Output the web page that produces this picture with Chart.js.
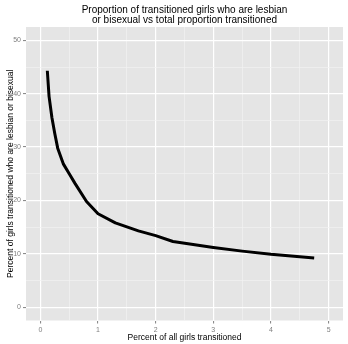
<!DOCTYPE html>
<html><head><meta charset="utf-8">
<script src="https://cdn.jsdelivr.net/npm/chart.js@4"></script>
<style>html,body{margin:0;padding:0;background:#fff}</style>
</head><body>
<canvas id="c" width="348" height="344" style="display:block;width:348px;height:344px"></canvas>
<script>
const percentAllTransitioned = [0.12, 0.15, 0.2, 0.25, 0.3, 0.4, 0.5, 0.6, 0.8, 1.0, 1.3, 1.7, 2.0, 2.3, 3.0, 3.5, 4.0, 4.75];
const percentLesbianBi = [44.3, 39.5, 35.5, 32.5, 29.8, 26.8, 25.0, 23.2, 19.8, 17.5, 15.8, 14.3, 13.4, 12.3, 11.2, 10.5, 9.9, 9.2];
const xTickValues = [0, 0.5, 1, 1.5, 2, 2.5, 3, 3.5, 4, 4.5, 5];
const yTickValues = [0, 5, 10, 15, 20, 25, 30, 35, 40, 45, 50];
const titleLines = ['Proportion of transitioned girls who are lesbian', 'or bisexual vs total proportion transitioned'];
const xTitle = 'Percent of all girls transitioned';
const yTitle = 'Percent of girls transitioned who are lesbian or bisexual';

const FONT = "'Liberation Sans', Arial, Helvetica, sans-serif";

const panelBg = {
  id: 'panelBg',
  beforeDraw(chart) {
    const {ctx, chartArea: a} = chart;
    ctx.save();
    ctx.fillStyle = '#ffffff';
    ctx.fillRect(0, 0, chart.width, chart.height);
    ctx.fillStyle = '#e5e5e5';
    ctx.fillRect(a.left, a.top, a.right - a.left, a.bottom - a.top);
    ctx.restore();
  }
};

function gridOpts(majorTest) {
  return {
    color: c => majorTest(c.tick.value) ? '#ffffff' : '#f2f2f2',
    lineWidth: c => majorTest(c.tick.value) ? 1.2 : 0.7,
    tickColor: c => majorTest(c.tick.value) ? '#7f7f7f' : 'rgba(0,0,0,0)',
    tickLength: 3,
    tickWidth: 1,
    drawTicks: true
  };
}
const xMajor = v => Number.isInteger(v);
const yMajor = v => v % 10 === 0;

new Chart(document.getElementById('c'), {
  type: 'line',
  data: {
    datasets: [{
      data: percentAllTransitioned.map((x, i) => ({x, y: percentLesbianBi[i]})),
      borderColor: '#000000',
      borderWidth: 3,
      pointRadius: 0,
      tension: 0,
      borderCapStyle: 'butt',
      borderJoinStyle: 'round',
      fill: false
    }]
  },
  options: {
    responsive: false,
    animation: false,
    devicePixelRatio: 1,
    layout: {padding: {top: 0, right: 5, left: 0, bottom: 0}},
    plugins: {
      legend: {display: false},
      tooltip: {enabled: false},
      title: {
        display: true,
        fullSize: false,
        text: titleLines,
        color: '#000000',
        font: {family: FONT, size: 10, weight: 'normal', lineHeight: 1.05},
        padding: {top: 4.5, bottom: 1.5}
      }
    },
    scales: {
      x: {
        type: 'linear',
        min: -0.25,
        max: 5.25,
        afterBuildTicks: s => { s.ticks = xTickValues.map(v => ({value: v})); },
        afterFit: s => { s.height = 23.5; },
        ticks: {
          autoSkip: false, maxRotation: 0, color: '#7f7f7f', padding: 2,
          font: {family: FONT, size: 7},
          callback: v => xMajor(v) ? String(v) : ''
        },
        grid: gridOpts(xMajor),
        border: {display: false},
        title: {display: true, text: xTitle, color: '#000000', font: {family: FONT, size: 8.5}, padding: {top: 0, bottom: 1.5}}
      },
      y: {
        type: 'linear',
        min: -2.5,
        max: 52.5,
        afterBuildTicks: s => { s.ticks = yTickValues.map(v => ({value: v})); },
        afterFit: s => { s.width = 26; },
        ticks: {
          autoSkip: false, color: '#7f7f7f', padding: 2,
          font: {family: FONT, size: 7},
          callback: v => yMajor(v) ? String(v) : ''
        },
        grid: gridOpts(yMajor),
        border: {display: false},
        title: {display: true, text: yTitle, color: '#000000', font: {family: FONT, size: 8.5}, padding: {top: 5.5, bottom: 0}}
      }
    }
  },
  plugins: [panelBg]
});
</script>
</body></html>
